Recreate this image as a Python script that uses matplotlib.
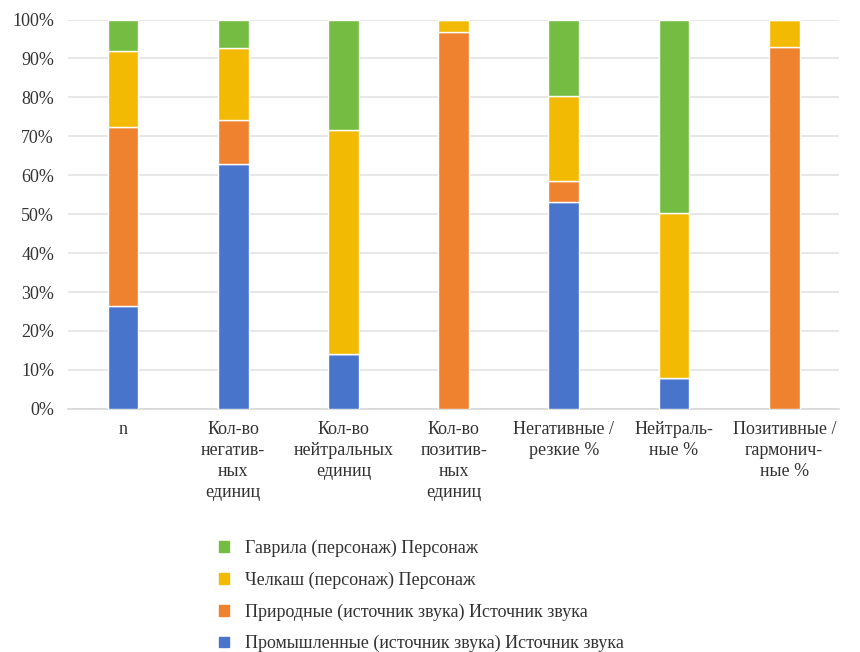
import matplotlib.pyplot as plt
import numpy as np
from matplotlib.patches import Patch
from matplotlib.ticker import PercentFormatter

plt.rcParams['font.family'] = ['Liberation Serif', 'DejaVu Serif']

categories = ['n', 'Кол-во\nнегатив-\nных\nединиц', 'Кол-во\nнейтральных\nединиц',
              'Кол-во\nпозитив-\nных\nединиц', 'Негативные /\nрезкие %',
              'Нейтраль-\nные %', 'Позитивные /\nгармонич-\nные %']

# shares, %
industrial = [26.3, 62.9, 14.1, 0.0, 53.2, 7.9, 0.0]
natural = [46.0, 11.3, 0.0, 96.9, 5.4, 0.0, 93.0]
chelkash = [19.5, 18.5, 57.5, 3.1, 21.7, 42.5, 7.0]
gavrila = [8.2, 7.3, 28.4, 0.0, 19.7, 49.6, 0.0]

series_names = ['Промышленные (источник звука) Источник звука',
                'Природные (источник звука) Источник звука',
                'Челкаш (персонаж) Персонаж',
                'Гаврила (персонаж) Персонаж']
colors = ['#4874CB', '#EE822F', '#F2BA02', '#75BD42']

fig = plt.figure(figsize=(8.6, 6.52), dpi=100)
ax = fig.add_axes([0.079, 0.373, 0.897, 0.597])

x = np.arange(len(categories))
bottom = np.zeros(len(categories))
for vals, c in zip([industrial, natural, chelkash, gavrila], colors):
    vals = np.array(vals)
    ax.bar(x, vals, 0.28, bottom=bottom, color=c, edgecolor='white',
           linewidth=1, zorder=3)
    bottom += vals

ax.set_xlim(-0.5, len(categories) - 0.5)
ax.set_ylim(0, 100)
ax.set_yticks(np.arange(0, 101, 10))
ax.yaxis.set_major_formatter(PercentFormatter(decimals=0))
ax.grid(axis='y', color='#e3e3e3', linewidth=1.2, zorder=0)
for s in ['top', 'right', 'left']:
    ax.spines[s].set_visible(False)
ax.spines['bottom'].set_color('#d9d9d9')
ax.spines['bottom'].set_linewidth(1.2)
ax.tick_params(length=0, labelsize=13, colors='#333333')
ax.tick_params(axis='y', pad=10)
ax.tick_params(axis='x', pad=9)
ax.set_xticks(x)
ax.set_xticklabels(categories, linespacing=1.3)

handles = [Patch(color=c) for c in colors][::-1]
fig.legend(handles, series_names[::-1], loc='upper left',
           bbox_to_anchor=(0.246, 0.183), frameon=False, fontsize=13,
           handlelength=0.55, handleheight=0.55, handletextpad=0.9,
           labelspacing=0.8, labelcolor='#333333', borderaxespad=0)

fig.savefig('out.png', dpi=100)
